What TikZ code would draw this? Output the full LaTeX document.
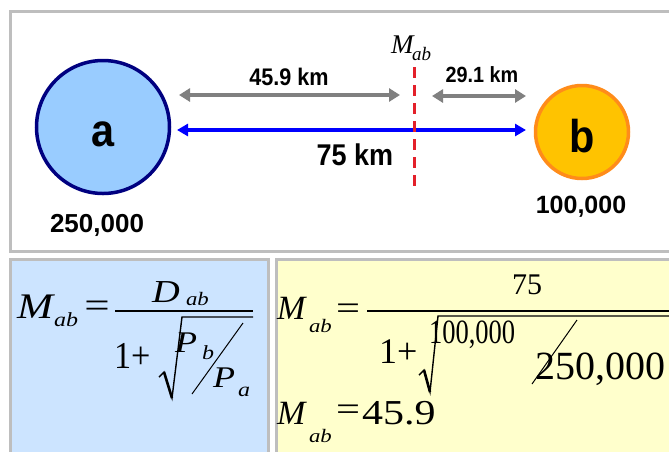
\documentclass[tikz,border=0pt]{standalone}
\usepackage{fontspec}
\usepackage{graphicx}
\setmainfont{Liberation Serif}
\newfontfamily\eqs[FakeStretch=1.2]{Liberation Serif}
\newfontfamily\lsans{Liberation Sans}
\newfontfamily\lsansn[FakeStretch=0.9]{Liberation Sans}
\usetikzlibrary{arrows.meta}
\definecolor{bord}{HTML}{BEBEBE}
\definecolor{afill}{HTML}{99CCFF}
\definecolor{aline}{HTML}{000080}
\definecolor{bfill}{HTML}{FFC300}
\definecolor{bline}{HTML}{FF8C1A}
\definecolor{garrow}{HTML}{808080}
\definecolor{barrow}{HTML}{0000FF}
\definecolor{rdash}{HTML}{E3202A}
\definecolor{lpanel}{HTML}{CCE4FF}
\definecolor{ypanel}{HTML}{FFFFCC}
\newcommand{\fs}[1]{\fontsize{#1}{#1}\selectfont}
\tikzset{
  panel/.style={draw=bord, line width=3pt},
  lbl/.style={inner sep=0pt, outer sep=0pt, anchor=base},
  lblw/.style={inner sep=0pt, outer sep=0pt, anchor=base west},
  graydim/.style={draw=garrow, line width=4pt, {Triangle[length=11pt,width=13pt]}-{Triangle[length=11pt,width=13pt]}},
  bluedim/.style={draw=barrow, line width=3.5pt, {Triangle[length=11pt,width=12pt]}-{Triangle[length=11pt,width=12pt]}},
  midline/.style={draw=rdash, line width=3pt, dash pattern=on 11pt off 7pt},
  fracbar/.style={line width=1.8pt},
  radical/.style={line width=1.4pt, line join=miter},
  slashline/.style={line width=1pt}
}
\begin{document}
\begin{tikzpicture}[x=1pt,y=-1pt]
\useasboundingbox (0,0) rectangle (669,451);
\fill[white] (0,0) rectangle (669,451);
% panels
\draw[panel, fill=white] (10.5,11.5) rectangle (690,251.5);
\draw[panel, fill=lpanel] (10.5,259.5) rectangle (268,470);
\draw[panel, fill=ypanel] (276,259.5) rectangle (690,470);
% circles
\node[circle, draw=aline, fill=afill, line width=3.5pt, minimum size=133pt, inner sep=0pt] (ca) at (103,127) {};
\node[circle, draw=bline, fill=bfill, line width=3.5pt, minimum size=93pt, inner sep=0pt] (cb) at (582,132) {};
\node[lbl] (ta) at (103,146) {\lsansn\bfseries\fs{46}a};
\node[lbl] (tb) at (582,152) {\lsansn\bfseries\fs{46}b};
\node[lbl] (pa) at (97,232) {\lsans\bfseries\fs{26}250,000};
\node[lbl] (pb) at (581,213) {\lsans\bfseries\fs{25}100,000};
% dimension arrows
\coordinate (g1s) at (179,95);
\coordinate (g1e) at (400,95);
\coordinate (g2s) at (432,96);
\coordinate (g2e) at (526,96);
\coordinate (bs) at (177,130);
\coordinate (be) at (526,130);
\coordinate (rt) at (414,67);
\coordinate (rb) at (414,191);
\draw[graydim] (g1s) -- (g1e);
\draw[graydim] (g2s) -- (g2e);
\draw[bluedim] (bs) -- (be);
\draw[midline] (rt) -- (rb);
\node[lbl] (d1) at (289,85) {\lsansn\bfseries\fs{24}45.9 km};
\node[lbl] (d2) at (482,82) {\lsansn\bfseries\fs{22}29.1 km};
\node[lbl] (d3) at (355,165) {\lsansn\bfseries\fs{30}75 km};
\node[lblw] (mt) at (391,53) {\itshape\fs{27}M};
\node[lblw] (mts) at (412,60) {\itshape\fs{19}ab};
% left formula
\node[lblw] (lm) at (17,318) {\eqs\itshape\fs{36}M};
\node[lblw] (lms) at (54,326) {\eqs\itshape\fs{20}ab};
\node[inner sep=0pt] (leq) at (97,309) {\fs{36}\scalebox{1.25}[1]{=}};
\coordinate (lb1) at (115,311);
\coordinate (lb2) at (253,311);
\draw[fracbar] (lb1) -- (lb2);
\node[lblw] (ld) at (152,302) {\eqs\itshape\fs{32}D};
\node[lblw] (lds) at (186,305) {\eqs\itshape\fs{19}ab};
\node[lblw] (lone) at (114,368) {\fs{38}\scalebox{0.9}[1]{1+}};
\coordinate (lr1) at (159,377);
\coordinate (lr2) at (164,372);
\coordinate (lr3) at (172,398);
\coordinate (lr4) at (182,317);
\coordinate (lr5) at (253,317);
\draw[radical] (lr1) -- (lr2) -- (lr3) -- (lr4) -- (lr5);
\draw[line width=2.6pt] (lr2) -- (lr3);
\node[lblw] (lp1) at (175,352) {\eqs\itshape\fs{30}P};
\node[lblw] (lp1s) at (202,359) {\eqs\itshape\fs{20}b};
\coordinate (ls1) at (192,394);
\coordinate (ls2) at (243,323);
\draw[slashline] (ls1) -- (ls2);
\node[lblw] (lp2) at (213,387) {\eqs\itshape\fs{30}P};
\node[lblw] (lp2s) at (238,396) {\eqs\itshape\fs{20}a};
% right formula
\node[lblw] (rm) at (277,319) {\itshape\fs{34}M};
\node[lblw] (rms) at (309,332) {\eqs\itshape\fs{19}ab};
\node[inner sep=0pt] (req) at (348,312) {\fs{34}\scalebox{1.25}[1]{=}};
\coordinate (rb1) at (367,311);
\coordinate (rb2) at (690,311);
\draw[fracbar] (rb1) -- (rb2);
\node[lbl] (r75) at (527,294) {\fs{30}75};
\node[lblw] (rone) at (379,363) {\fs{36}1+};
\coordinate (rr1) at (419,375);
\coordinate (rr2) at (424,370);
\coordinate (rr3) at (430,392);
\coordinate (rr4) at (438,316);
\coordinate (rr5) at (690,316);
\draw[radical] (rr1) -- (rr2) -- (rr3) -- (rr4) -- (rr5);
\draw[line width=2.6pt] (rr2) -- (rr3);
\node[lblw] (rnum) at (429,343) {\fs{34}\scalebox{0.78}[1]{100,000}};
\coordinate (rs1) at (532,384);
\coordinate (rs2) at (577,320);
\draw[slashline] (rs1) -- (rs2);
\node[lblw] (rden) at (535,379) {\fs{40}250,000};
\node[lblw] (rm2) at (277,424) {\itshape\fs{34}M};
\node[lblw] (rm2s) at (309,442) {\eqs\itshape\fs{19}ab};
\node[inner sep=0pt] (req2) at (348,413) {\fs{34}\scalebox{1.25}[1]{=}};
\node[lblw] (rres) at (362,424) {\eqs\fs{35}45.9};
\end{tikzpicture}
\end{document}
